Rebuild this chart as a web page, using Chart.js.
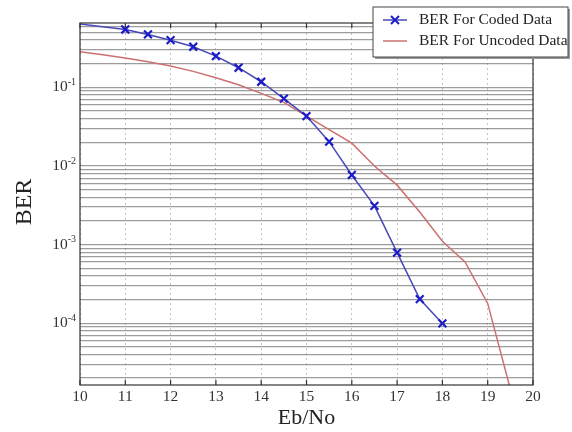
<!DOCTYPE html>
<html>
<head>
<meta charset="utf-8">
<script src="https://cdn.jsdelivr.net/npm/chart.js@4.4.1/dist/chart.umd.min.js"></script>
<style>
  html,body{margin:0;padding:0;background:#fff;}
  #wrap{width:572px;height:432px;}
</style>
</head>
<body>
<div id="wrap"><canvas id="c" width="572" height="432"></canvas></div>
<script>
// values
const codedX = [10, 11, 11.5, 12, 12.5, 13, 13.5, 14, 14.5, 15, 15.5, 16, 16.5, 17, 17.5, 18];
const codedBer = [0.64, 0.546, 0.472, 0.399, 0.329, 0.25, 0.178, 0.118, 0.0718, 0.0431, 0.0204, 0.00768, 0.0031, 0.00079, 0.000202, 0.0000991];
const uncodedX = [10, 10.5, 11, 11.5, 12, 12.5, 13, 13.5, 14, 14.5, 15, 16, 16.5, 17, 17.5, 18, 18.5, 19, 19.5];
const uncodedBer = [0.284, 0.26, 0.237, 0.212, 0.187, 0.16, 0.133, 0.108, 0.084, 0.0645, 0.0432, 0.0195, 0.0100, 0.0057, 0.0026, 0.0011, 0.0006, 0.000178, 0.0000145];
const xTicks = [10, 11, 12, 13, 14, 15, 16, 17, 18, 19, 20];
const yDecades = [1e-4, 1e-3, 1e-2, 1e-1];
const yExponents = ['-4', '-3', '-2', '-1'];
const yMin = 1.63e-5, yMax = 0.66;
const seriesNames = ['BER For Coded Data', 'BER For Uncoded Data'];

const SERIF = '"Liberation Serif", "DejaVu Serif", serif';
const BLUE = '#4848b8', MARK = '#1c1cc8', RED = '#cc7070';

const pts = (xs, ys) => xs.map((x, i) => ({x, y: ys[i]}));

// 1..9 x 10^n between min and max, for the minor grid
function logGrid(min, max){
  const out = [];
  for (let e = Math.floor(Math.log10(min)); e <= Math.ceil(Math.log10(max)); e++){
    for (let m = 1; m < 10; m++){
      const v = m * Math.pow(10, e);
      if (v >= min && v <= max) out.push({value: v});
    }
  }
  return out;
}

const frame = {
  id: 'frame',
  afterDraw(chart){
    const {ctx, chartArea: a, scales: {x, y}} = chart;
    ctx.save();
    // box
    ctx.strokeStyle = '#333'; ctx.lineWidth = 1.2;
    ctx.strokeRect(a.left, a.top, a.right - a.left, a.bottom - a.top);
    // inward ticks on x
    ctx.beginPath();
    xTicks.forEach(t => {
      const px = x.getPixelForValue(t);
      ctx.moveTo(px, a.bottom); ctx.lineTo(px, a.bottom - 5);
      ctx.moveTo(px, a.top); ctx.lineTo(px, a.top + 5);
    });
    ctx.stroke();
    // x tick labels
    ctx.fillStyle = '#333';
    ctx.font = '15.5px ' + SERIF;
    ctx.textAlign = 'center'; ctx.textBaseline = 'middle';
    xTicks.forEach(t => ctx.fillText(String(t), x.getPixelForValue(t), a.bottom + 12));
    // y decade labels with superscript
    ctx.textAlign = 'right';
    yDecades.forEach((v, i) => {
      const py = y.getPixelForValue(v);
      ctx.font = '10px ' + SERIF;
      const ew = ctx.measureText(yExponents[i]).width;
      ctx.fillText(yExponents[i], a.left - 4, py - 5);
      ctx.font = '15.5px ' + SERIF;
      ctx.fillText('10', a.left - 4 - ew, py);
    });
    // axis titles
    ctx.fillStyle = '#222';
    ctx.font = '22px ' + SERIF;
    ctx.textAlign = 'center';
    ctx.fillText('Eb/No', (a.left + a.right) / 2, 418);
    ctx.save();
    ctx.translate(25, 202); ctx.rotate(-Math.PI / 2);
    ctx.font = '24px ' + SERIF;
    ctx.fillText('BER', 0, 0);
    ctx.restore();
    // legend
    const lx = 373, ly = 7, lw = 195, lh = 50;
    ctx.fillStyle = '#999';
    ctx.fillRect(lx + 2, ly + 2, lw, lh);
    ctx.fillStyle = '#fff';
    ctx.fillRect(lx, ly, lw, lh);
    ctx.strokeStyle = '#444'; ctx.lineWidth = 1;
    ctx.strokeRect(lx, ly, lw, lh);
    ctx.lineWidth = 1.5;
    ctx.strokeStyle = BLUE;
    ctx.beginPath(); ctx.moveTo(383, 20); ctx.lineTo(407, 20); ctx.stroke();
    ctx.strokeStyle = MARK; ctx.lineWidth = 2;
    ctx.beginPath(); ctx.moveTo(391, 16); ctx.lineTo(399, 24); ctx.moveTo(399, 16); ctx.lineTo(391, 24); ctx.stroke();
    ctx.strokeStyle = RED; ctx.lineWidth = 1.5;
    ctx.beginPath(); ctx.moveTo(383, 41); ctx.lineTo(407, 41); ctx.stroke();
    ctx.fillStyle = '#222';
    ctx.font = '15.5px ' + SERIF;
    ctx.textAlign = 'left';
    ctx.fillText(seriesNames[0], 419, 20);
    ctx.fillText(seriesNames[1], 419, 41);
    ctx.restore();
  }
};

new Chart(document.getElementById('c'), {
  type: 'line',
  data: {
    datasets: [
      {label: seriesNames[0], data: pts(codedX, codedBer), borderColor: BLUE, borderWidth: 1.5,
       pointStyle: 'crossRot', pointRadius: c => c.dataIndex === 0 ? 0 : 5.5, pointBorderColor: MARK, pointBorderWidth: 2.2, tension: 0},
      {label: seriesNames[1], data: pts(uncodedX, uncodedBer), borderColor: RED, borderWidth: 1.5,
       pointRadius: 0, tension: 0}
    ]
  },
  options: {
    responsive: false,
    animation: false,
    layout: {padding: {top: 23, right: 39, left: 0, bottom: 0}},
    plugins: {legend: {display: false}, tooltip: {enabled: false}},
    scales: {
      x: {
        type: 'linear', min: 10, max: 20,
        afterBuildTicks: s => { s.ticks = xTicks.map(v => ({value: v})); },
        afterFit: s => { s.height = 47; },
        ticks: {display: true, callback: () => '', font: {size: 1}},
        grid: {color: '#c4c4c4', lineWidth: 1, drawTicks: false},
        border: {display: false, dash: [2, 3]}
      },
      y: {
        type: 'logarithmic', min: yMin, max: yMax,
        afterBuildTicks: s => { s.ticks = logGrid(yMin, yMax); },
        afterFit: s => { s.width = 80; },
        ticks: {display: true, callback: () => '', font: {size: 1}},
        grid: {color: 'rgba(105,105,105,0.65)', lineWidth: 1.2, drawTicks: false},
        border: {display: false}
      }
    }
  },
  plugins: [frame]
});
</script>
</body>
</html>
